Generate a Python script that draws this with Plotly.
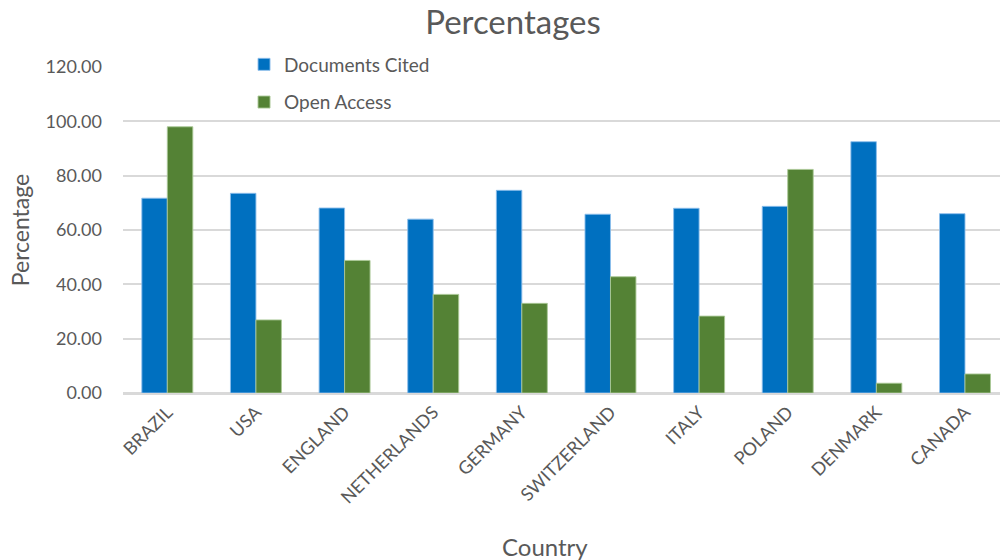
import plotly.graph_objects as go

countries = ["BRAZIL", "USA", "ENGLAND", "NETHERLANDS", "GERMANY",
             "SWITZERLAND", "ITALY", "POLAND", "DENMARK", "CANADA"]
documents_cited = [71.7, 73.5, 68.1, 64.0, 74.6, 65.8, 68.0, 68.7, 92.5, 66.0]
open_access = [98.0, 26.9, 48.8, 36.3, 33.0, 42.8, 28.3, 82.3, 3.6, 7.0]

FONT = "Lato"
GREY = "#595959"

fig = go.Figure()
fig.add_trace(go.Bar(
    x=countries, y=documents_cited, name="Documents Cited",
    marker=dict(color="#0070C0", line=dict(color="rgba(140,190,235,0.9)", width=1)),
    legendgroup="a",
))
fig.add_trace(go.Bar(
    x=countries, y=open_access, name="Open Access",
    marker=dict(color="#548235", line=dict(color="rgba(170,200,150,0.9)", width=1)),
    legendgroup="b",
))

fig.update_layout(
    width=1000, height=560,
    paper_bgcolor="white", plot_bgcolor="white",
    margin=dict(l=123, r=0, t=67, b=167),
    barmode="group", bargap=0.425, bargroupgap=0,
    font=dict(family=FONT, color=GREY),
    title=dict(text="Percentages", x=0.513, xref="container", xanchor="center",
               y=0.96, yanchor="middle", yref="container",
               font=dict(size=33, color=GREY, family=FONT)),
    legend=dict(x=0.138, y=1.066, xanchor="left", yanchor="top",
                orientation="v", tracegroupgap=10,
                font=dict(size=19, color=GREY, family=FONT),
                bgcolor="rgba(0,0,0,0)"),
    showlegend=True,
    annotations=[dict(text="Country", x=0.5, xref="paper", y=0, yref="paper",
                      showarrow=False, font=dict(size=24, color=GREY, family=FONT),
                      xanchor="center", yanchor="middle")],
)
# place the x-axis caption in pixel terms (plot area is 877 x 326 px)
fig.layout.annotations[0].x = (545 - 123) / 877
fig.layout.annotations[0].y = (393 - 546) / 326

fig.update_xaxes(
    range=[-0.5, 9.395],
    tickangle=-45, tickfont=dict(size=18, color=GREY),
    showgrid=False, showline=True, linecolor="#d9d9d9", linewidth=1.5,
    ticks="",
)
fig.update_yaxes(
    range=[0, 120], dtick=20, tickformat=".2f",
    tickfont=dict(size=18, color=GREY), ticklabelstandoff=20,
    showgrid=True, gridcolor="#d9d9d9", gridwidth=1.5,
    zeroline=True, zerolinecolor="#d9d9d9", zerolinewidth=1.5,
    showline=False, ticks="",
    title=dict(text="Percentage", font=dict(size=23, color=GREY), standoff=9),
)

fig.write_html("out.html")
